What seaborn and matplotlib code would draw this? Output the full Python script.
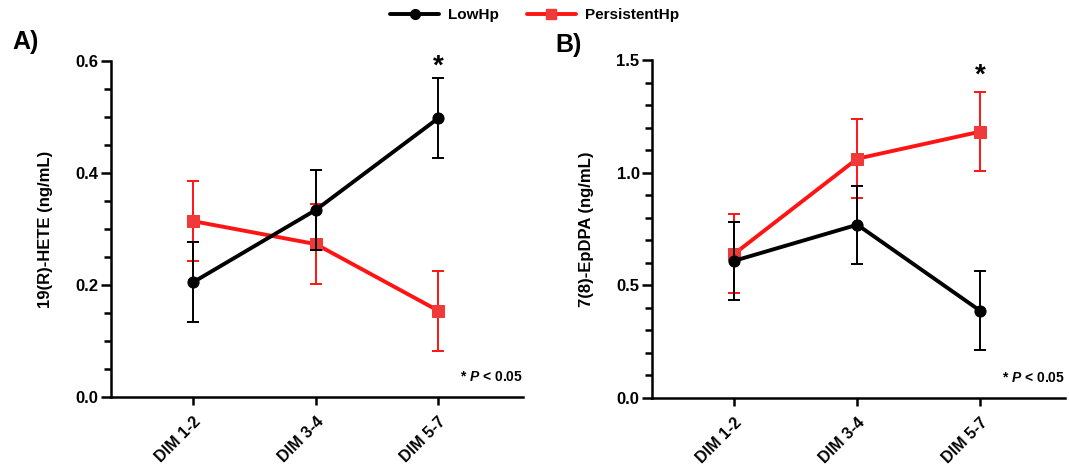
import numpy as np
import pandas as pd
import matplotlib
matplotlib.use("Agg")
import matplotlib.pyplot as plt
import seaborn as sns
from matplotlib.lines import Line2D
from matplotlib.ticker import MultipleLocator

# values (mean and SEM)
dim_labels = ["DIM 1-2", "DIM 3-4", "DIM 5-7"]
groups = ["LowHp", "PersistentHp"]

hete_low = [0.205, 0.334, 0.498]
hete_low_sem = [0.071, 0.071, 0.071]
hete_pers = [0.314, 0.273, 0.154]
hete_pers_sem = [0.071, 0.071, 0.071]

epdpa_low = [0.609, 0.769, 0.387]
epdpa_low_sem = [0.174, 0.174, 0.176]
epdpa_pers = [0.640, 1.062, 1.182]
epdpa_pers_sem = [0.175, 0.175, 0.176]

colors = {"LowHp": "black", "PersistentHp": "#ff1414"}
mcolors = {"LowHp": "black", "PersistentHp": "#f03a3a"}
markers = {"LowHp": "o", "PersistentHp": "s"}

sns.set_theme(style="ticks")
plt.rcParams["font.family"] = ["Liberation Sans", "DejaVu Sans"]
plt.rcParams["font.weight"] = "bold"
plt.rcParams["mathtext.fontset"] = "custom"
plt.rcParams["mathtext.it"] = "Liberation Sans:italic:bold"
plt.rcParams["mathtext.rm"] = "Liberation Sans:bold"
for key in ["text.color", "axes.labelcolor", "xtick.color", "ytick.color", "axes.edgecolor"]:
    plt.rcParams[key] = "black"


def make_df(low, low_sem, pers, pers_sem):
    rows = []
    for i, d in enumerate(dim_labels):
        rows.append({"pos": i, "dim": d, "group": "LowHp", "value": low[i], "sem": low_sem[i]})
    for i, d in enumerate(dim_labels):
        rows.append({"pos": i, "dim": d, "group": "PersistentHp", "value": pers[i], "sem": pers_sem[i]})
    return pd.DataFrame(rows)


def draw_panel(ax, df, ymax, major, minor, ylabel, star_y):
    for g in ["PersistentHp", "LowHp"]:
        sub = df[df["group"] == g]
        z = 3 if g == "PersistentHp" else 4
        ax.errorbar(sub["pos"], sub["value"], yerr=sub["sem"], fmt="none",
                    ecolor=colors[g], elinewidth=1.4, capsize=4, capthick=1.4, zorder=z)
        sns.lineplot(data=sub, x="pos", y="value", ax=ax, color=colors[g],
                     linewidth=2.8, marker=markers[g], markersize=8,
                     markerfacecolor=mcolors[g], markeredgecolor=mcolors[g],
                     errorbar=None, legend=False, zorder=z)
    ax.set_xlim(-0.67, 2.69)
    ax.set_ylim(0, ymax)
    ax.yaxis.set_major_locator(MultipleLocator(major))
    ax.yaxis.set_minor_locator(MultipleLocator(minor))
    ax.yaxis.set_major_formatter(matplotlib.ticker.FormatStrFormatter("%.1f"))
    ax.set_xticks(range(len(dim_labels)))
    ax.set_xticklabels(dim_labels, rotation=45, ha="right", rotation_mode="anchor",
                       fontsize=11.5, fontweight="bold")
    ax.tick_params(axis="y", which="major", length=7, width=1.8, labelsize=12, pad=2)
    ax.tick_params(axis="y", which="minor", length=5, width=1.8)
    ax.tick_params(axis="x", length=6, width=1.8, pad=6)
    for lab in ax.get_yticklabels():
        lab.set_fontweight("bold")
    ax.set_xlabel("")
    ax.set_ylabel(ylabel, fontsize=12, fontweight="bold", labelpad=16)
    for s in ["left", "bottom"]:
        ax.spines[s].set_linewidth(1.8)
    sns.despine(ax=ax)
    ax.text(2, star_y, "*", ha="center", va="center", fontsize=20, fontweight="bold",
            clip_on=False)
    ax.text(1.0, 0.06, r"* $P$ < 0.05", transform=ax.transAxes, ha="right", va="center",
            fontsize=10, fontweight="bold")


fig = plt.figure(figsize=(10.69, 4.69), dpi=100)
ax1 = fig.add_axes([111 / 1069, 72 / 469, 412 / 1069, 336 / 469])
ax2 = fig.add_axes([652 / 1069, 71 / 469, 413 / 1069, 338 / 469])

draw_panel(ax1, make_df(hete_low, hete_low_sem, hete_pers, hete_pers_sem),
           0.6, 0.2, 0.05, "19(R)-HETE (ng/mL)", 0.59)
draw_panel(ax2, make_df(epdpa_low, epdpa_low_sem, epdpa_pers, epdpa_pers_sem),
           1.5, 0.5, 0.1, "7(8)-EpDPA (ng/mL)", 1.43)

fig.text(12 / 1069, 1 - 42 / 469, "A)", fontsize=18, fontweight="bold", va="center")
fig.text(555 / 1069, 1 - 45 / 469, "B)", fontsize=18, fontweight="bold", va="center")

handles = [Line2D([], [], color=colors[g], linewidth=2.8, marker=markers[g], markersize=7,
                  markerfacecolor=mcolors[g], markeredgecolor=mcolors[g]) for g in groups]
fig.legend(handles, groups, loc="center", bbox_to_anchor=(0.5, 1 - 15 / 469), ncol=2,
           frameon=False, prop={"weight": "bold", "size": 11}, handlelength=3.2,
           columnspacing=1.8, handletextpad=0.6)

fig.savefig("out.png", dpi=100)
